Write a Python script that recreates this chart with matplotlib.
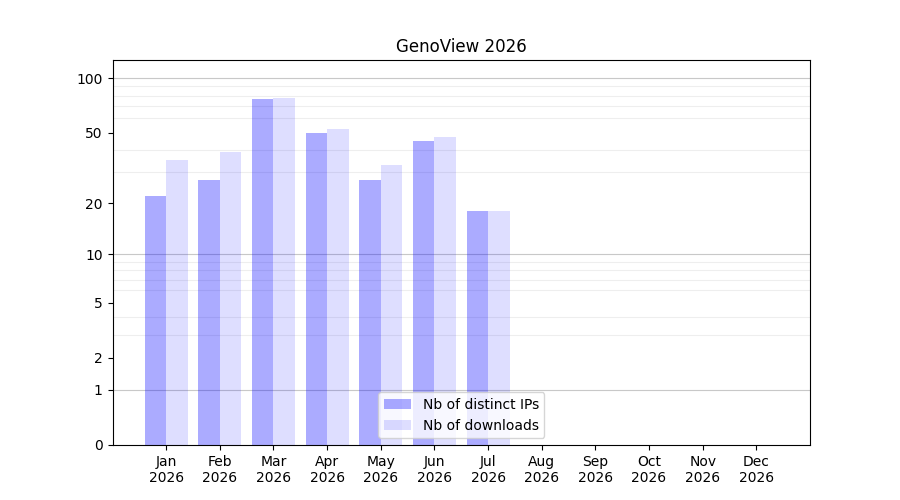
import numpy as np
import matplotlib
matplotlib.use("Agg")
import matplotlib.pyplot as plt

months = ["Jan", "Feb", "Mar", "Apr", "May", "Jun", "Jul", "Aug", "Sep", "Oct", "Nov", "Dec"]
year = "2026"
ips = [22, 27, 77, 50, 27, 45, 18]
downloads = [35, 39, 78, 52, 33, 47, 18]
ytick_vals = [0, 1, 2, 5, 10, 20, 50, 100]

fig, ax = plt.subplots(figsize=(9, 5), dpi=100)

fwd = lambda y: np.log10(1 + np.maximum(y, -0.999))
inv = lambda y: 10 ** y - 1
ax.set_yscale('function', functions=(fwd, inv))

x = np.arange(len(ips))
ax.bar(x - 0.2, ips, width=0.4, color='blue', alpha=0.33, label='Nb of distinct IPs')
ax.bar(x + 0.2, downloads, width=0.4, color='blue', alpha=0.13, label='Nb of downloads')

ax.set_xlim(-1, 12)
ax.set_ylim(0, 126)
ax.set_xticks(np.arange(len(months)))
ax.set_xticklabels([f"{m}\n{year}" for m in months])
ax.set_yticks(ytick_vals)
ax.set_yticklabels([str(v) for v in ytick_vals])

minor = [v for v in list(range(2, 10)) + list(range(20, 100, 10))]
ax.set_yticks(minor, minor=True)
ax.tick_params(axis='y', which='minor', length=0)
ax.grid(True, which='minor', axis='y', color='#eeeeee', linewidth=0.8)
for v in [1, 10, 100]:
    ax.axhline(v, color='#c8c8c8', linewidth=0.8, zorder=0.5)
ax.set_axisbelow(True)

ax.set_title("GenoView 2026")
ax.legend(loc='lower center')

fig.savefig("out.png", dpi=100)
